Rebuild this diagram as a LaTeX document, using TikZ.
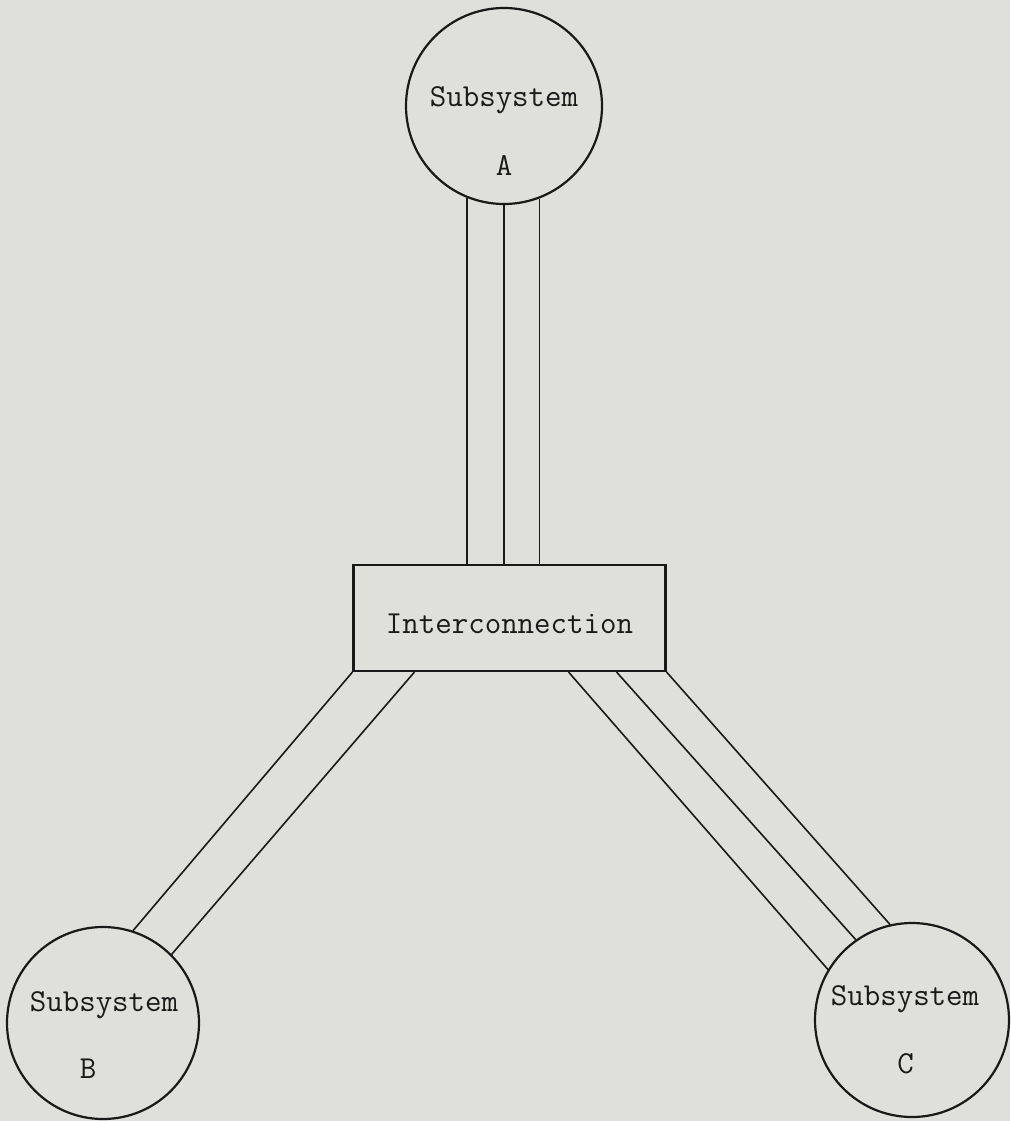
\documentclass[tikz,border=0pt]{standalone}
\usepackage{tikz}
\definecolor{bgc}{RGB}{223,224,219}
\definecolor{ink}{RGB}{25,25,25}
\begin{document}
\begin{tikzpicture}[x=1pt,y=-1pt,
  subsys/.style={circle,draw=ink,line width=2.2pt,inner sep=0pt},
  boxnode/.style={rectangle,draw=ink,line width=2.2pt,inner sep=0pt,minimum width=312pt,minimum height=106pt},
  wire/.style={draw=ink,line width=1.6pt},
  lbl/.style={font=\fontsize{32}{32}\selectfont\ttfamily,text=ink,inner sep=0pt,anchor=base}]
\fill[bgc] (0,0) rectangle (1010,1121);
\useasboundingbox (0,0) rectangle (1010,1121);
\node[subsys,minimum size=196pt] (A) at (504,106) {};
\node[subsys,minimum size=192pt] (B) at (103,1023) {};
\node[subsys,minimum size=194pt] (C) at (912,1020) {};
\node[boxnode] (R) at (509.5,618) {};
\node[lbl] (Ra) at (504,107) {Subsystem};
\node[lbl] (Rb) at (504,175) {A};
\node[lbl] (I) at (509.5,633) {Interconnection};
\node[lbl] (Ba) at (104,1011) {Subsystem};
\node[lbl] (Bb) at (88,1078) {B};
\node[lbl] (Ca) at (905,1005) {Subsystem};
\node[lbl] (Cb) at (905.5,1073) {C};
% A to interconnection
\draw[wire] (A.248) -- (A.248 |- R.north);
\draw[wire] (A.270) -- (A.270 |- R.north);
\draw[wire] (A.291) -- (A.291 |- R.north);
% interconnection to B
\draw[wire] (R.south west) -- (B.72);
\draw[wire] ([xshift=62pt]R.south west) -- (B.45);
% interconnection to C
\draw[wire] ([xshift=-98pt]R.south east) -- (C.149);
\draw[wire] ([xshift=-50pt]R.south east) -- (C.125);
\draw[wire] (R.south east) -- (C.103);
\end{tikzpicture}
\end{document}
